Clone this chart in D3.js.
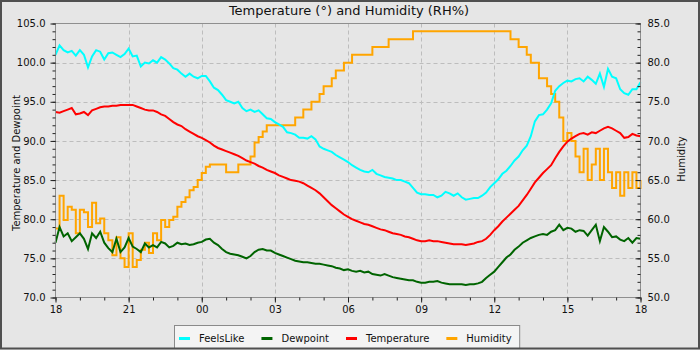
<!DOCTYPE html>
<html><head><meta charset="utf-8">
<script src="https://cdn.jsdelivr.net/npm/d3@7"></script>
<style>body{margin:0;background:#e6e6e6;}svg{display:block;font-family:"DejaVu Sans",sans-serif;}</style>
</head><body><svg id="c" width="700" height="350"></svg>
<script>
// ---- data (10-minute samples from 18:00 to 18:00 next day) ----
const startTime = new Date(2024, 0, 1, 18, 0);
const stepMinutes = 10;
const seriesNames = ["FeelsLike", "Dewpoint", "Temperature", "Humidity"];
const seriesColors = ["#00ffff", "#006400", "#ff0000", "#ffa500"];
const leftTicks = [70, 75, 80, 85, 90, 95, 100, 105];
const rightTicks = [50, 55, 60, 65, 70, 75, 80, 85];
const xTickLabels = ["18", "21", "00", "03", "06", "09", "12", "15", "18"];

const temperature = [93.7,93.6,93.8,94.0,94.2,93.4,93.5,93.7,93.3,93.9,94.1,94.3,94.4,94.4,94.5,94.5,94.6,94.6,94.6,94.6,94.4,94.2,94.0,93.9,93.9,93.7,93.4,93.2,92.8,92.4,92.1,91.9,91.5,91.2,90.9,90.6,90.4,90.1,89.8,89.4,89.1,88.9,88.7,88.5,88.3,88.1,87.8,87.5,87.3,87.1,86.8,86.6,86.3,86.1,85.9,85.6,85.4,85.2,85.0,84.9,84.8,84.6,84.3,84.0,83.7,83.3,82.8,82.3,81.8,81.4,81.0,80.6,80.3,80.0,79.8,79.6,79.4,79.3,79.1,78.9,78.7,78.6,78.4,78.2,78.1,78.0,77.8,77.7,77.5,77.3,77.2,77.2,77.3,77.2,77.2,77.1,77.0,76.9,76.8,76.8,76.8,76.7,76.8,76.9,77.1,77.2,77.5,78.0,78.6,79.1,79.7,80.2,80.7,81.2,81.7,82.4,83.1,83.9,84.7,85.3,85.9,86.4,86.9,87.8,88.6,89.3,89.9,90.3,90.6,90.9,91.0,90.8,91.1,91.0,91.3,91.6,91.8,91.6,91.3,91.0,90.4,90.5,90.9,90.7,90.6];

const feelsLike = [101.0,102.2,101.6,101.3,101.5,100.9,101.6,101.0,99.4,100.8,101.6,101.4,100.4,101.2,101.3,101.0,100.7,101.1,101.8,100.8,100.9,99.5,100.0,99.9,100.3,100.0,100.7,100.4,99.9,99.3,99.1,98.6,98.2,98.6,98.2,98.0,98.3,98.3,97.6,96.8,96.5,95.9,95.2,95.0,94.8,95.0,94.2,93.8,94.0,93.7,93.9,93.4,92.9,92.8,92.4,92.1,91.8,91.1,91.0,90.8,90.4,90.4,90.3,90.6,90.2,89.3,89.0,88.8,88.6,88.2,87.9,87.6,87.3,86.9,86.6,86.3,86.1,86.0,86.3,85.8,85.6,85.4,85.3,85.2,85.0,85.0,84.8,84.6,84.0,83.4,83.2,83.2,83.1,83.1,82.8,83.0,83.5,83.3,83.0,83.3,82.8,82.5,82.6,82.7,82.7,83.0,83.4,84.1,84.6,85.1,85.8,86.2,86.8,87.5,88.0,88.8,89.4,90.6,92.5,93.3,93.4,94.0,94.8,96.4,97.0,97.4,97.7,97.6,97.9,98.0,97.6,98.2,97.8,97.3,98.6,96.9,99.2,98.2,98.0,96.6,96.1,95.9,96.6,96.6,97.5];

const dewpoint = [77.0,79.0,77.8,78.2,77.2,77.7,78.2,77.5,76.2,78.2,77.6,78.4,77.0,76.3,75.8,77.5,75.8,76.4,77.6,76.5,76.2,75.8,76.9,76.4,76.7,76.4,77.1,76.9,76.4,76.6,77.0,76.8,76.9,76.7,76.8,77.0,77.1,77.4,77.5,77.0,76.7,76.2,75.8,75.6,75.5,75.4,75.2,75.0,75.3,75.8,76.1,76.2,76.0,76.0,75.7,75.5,75.3,75.1,74.9,74.7,74.6,74.5,74.5,74.4,74.3,74.3,74.2,74.1,74.0,73.8,73.7,73.5,73.6,73.4,73.3,73.4,73.2,73.3,73.0,72.9,72.8,73.0,72.8,72.6,72.5,72.4,72.3,72.2,72.2,72.0,71.9,71.9,72.0,72.0,72.1,71.9,71.8,71.7,71.7,71.7,71.7,71.6,71.7,71.7,71.8,72.0,72.5,72.9,73.3,73.9,74.5,75.1,75.5,76.1,76.5,77.0,77.3,77.6,77.8,78.0,78.1,78.0,78.4,78.6,79.3,78.6,78.9,78.8,78.4,78.6,78.5,77.9,78.6,79.3,77.2,79.0,78.4,77.7,77.8,77.4,77.2,77.6,77.0,77.6,77.5];

const humidity = [58.8,63.0,59.9,61.6,61.2,58.2,61.2,60.9,59.0,62.1,59.5,60.1,58.2,57.3,55.4,57.7,55.0,53.9,58.2,53.9,54.8,56.1,57.0,55.7,58.2,57.3,59.9,59.0,59.9,60.3,61.6,62.2,62.8,63.7,64.1,65.0,65.9,66.7,67,67,67,67,66,66,66,67,67,67,68,69.8,70.5,71.2,72,72,72,72,72,72,72,73,73,74,74,75,75,76,77,77,78,79,79,80,80,81,81,81,81,81,82,82,82,82,83,83,83,83,83,83,84,84,84,84,84,84,84,84,84,84,84,84,84,84,84,84,84,84,84,84,84,84,84,84,83,83,82,82,81,80,80,78,78,77,76,75,73,70,71,70,68,66,69,65,67,69,65,69,66,64,66,63,66,64,66,64,65];

// ---- layout ----
const W = 700, H = 350;
const L = 55.5, R = 640.5, T = 23.5, B = 297.5;
const svg = d3.select("#c");
const times = temperature.map((_, i) => new Date(+startTime + i * stepMinutes * 60000));
const endTime = times[times.length - 1];

const x = d3.scaleTime().domain([startTime, endTime]).range([L, R]);
const yL = d3.scaleLinear().domain([70, 105]).range([B, T]);
const yR = d3.scaleLinear().domain([50, 85]).range([B, T]);

svg.append("rect").attr("width", W).attr("height", H).attr("fill", "#e6e6e6");

// grid
const xMajor = d3.range(0, 9).map(k => new Date(+startTime + k * 3 * 3600000));
const g = svg.append("g");
g.selectAll("line.vx").data(xMajor.slice(1, -1)).join("line")
  .attr("x1", d => Math.round(x(d)) + 0.5).attr("x2", d => Math.round(x(d)) + 0.5)
  .attr("y1", T).attr("y2", B)
  .attr("stroke", "#bdbdbd").attr("stroke-dasharray", "4,3");
g.selectAll("line.hy").data(leftTicks.slice(1, -1)).join("line")
  .attr("y1", d => Math.round(yL(d)) + 0.5).attr("y2", d => Math.round(yL(d)) + 0.5)
  .attr("x1", L).attr("x2", R)
  .attr("stroke", "#bdbdbd").attr("stroke-dasharray", "4,3");

// lines (draw in reverse legend order)
const data = [feelsLike, dewpoint, temperature, humidity];
const scales = [yL, yL, yL, yR];
for (let s = 3; s >= 0; s--) {
  const line = d3.line()
    .x((d, i) => x(times[i]))
    .y(d => scales[s](d))
    .curve(s === 3 ? d3.curveStepAfter : d3.curveLinear);
  svg.append("path").datum(data[s]).attr("d", line)
    .attr("fill", "none").attr("stroke", seriesColors[s]).attr("stroke-width", 2)
    .attr("stroke-linejoin", "miter");
}

// frame
svg.append("rect").attr("x", L).attr("y", T).attr("width", R - L).attr("height", B - T)
  .attr("fill", "none").attr("stroke", "#8f8f8f").attr("stroke-width", 1);

function styleAxis(sel) {
  sel.select(".domain").remove();
  sel.selectAll("line").attr("stroke", "#222");
  sel.selectAll("text").attr("fill", "#111").style("font-size", "10px").style("font-family", "DejaVu Sans");
}

// left axis
svg.append("g").attr("transform", `translate(${L},0)`)
  .call(d3.axisLeft(yL).tickValues(d3.range(70, 105.01, 1)).tickSize(3).tickFormat(""))
  .call(styleAxis);
svg.append("g").attr("transform", `translate(${L},0)`)
  .call(d3.axisLeft(yL).tickValues(leftTicks).tickSize(5).tickPadding(5).tickFormat(d3.format(".1f")))
  .call(styleAxis);

// right axis (ticks inward)
svg.append("g").attr("transform", `translate(${R},0)`)
  .call(d3.axisRight(yR).tickValues(d3.range(50, 85.01, 1)).tickSizeInner(-3).tickSizeOuter(0).tickFormat(""))
  .call(styleAxis);
svg.append("g").attr("transform", `translate(${R},0)`)
  .call(d3.axisRight(yR).tickValues(rightTicks).tickSizeInner(-5).tickSizeOuter(0).tickPadding(7).tickFormat(d3.format(".1f")))
  .call(styleAxis);

// bottom axis
const xMinor = d3.range(0, 25).map(k => new Date(+startTime + k * 3600000));
svg.append("g").attr("transform", `translate(0,${B})`)
  .call(d3.axisBottom(x).tickValues(xMinor).tickSize(3).tickFormat(""))
  .call(styleAxis);
svg.append("g").attr("transform", `translate(0,${B})`)
  .call(d3.axisBottom(x).tickValues(xMajor).tickSize(5).tickPadding(3).tickFormat((d, i) => xTickLabels[i]))
  .call(styleAxis);

// titles
svg.append("text").attr("x", 349).attr("y", 15).attr("text-anchor", "middle")
  .style("font-size", "13px").attr("fill", "#111").text("Temperature (°) and Humidity (RH%)");
svg.append("text").attr("transform", "translate(20,163) rotate(-90)").attr("text-anchor", "middle")
  .style("font-size", "10px").attr("fill", "#111").text("Temperature and Dewpoint");
svg.append("text").attr("transform", "translate(685,159) rotate(-90)").attr("text-anchor", "middle")
  .style("font-size", "10px").attr("fill", "#111").text("Humidity");

// legend
const lg = svg.append("g");
const box = lg.append("rect").attr("x", 174.5).attr("y", 325.5).attr("height", 23)
  .attr("fill", "#f4f4f4").attr("stroke", "#8a8a8a");
let lx = 179;
seriesNames.forEach((n, i) => {
  lg.append("line").attr("x1", lx).attr("x2", lx + 11).attr("y1", 338.5).attr("y2", 338.5)
    .attr("stroke", seriesColors[i]).attr("stroke-width", 3);
  const t = lg.append("text").attr("x", lx + 20).attr("y", 341.5)
    .style("font-size", "10px").attr("fill", "#111").text(n);
  lx += 20 + t.node().getComputedTextLength() + 17;
});
box.attr("width", lx - 174.5 - 9);

// outer border
svg.append("rect").attr("x", 1).attr("y", 1).attr("width", W - 2).attr("height", H - 2.5)
  .attr("fill", "none").attr("stroke", "#505050").attr("stroke-width", 2);
</script></body></html>
